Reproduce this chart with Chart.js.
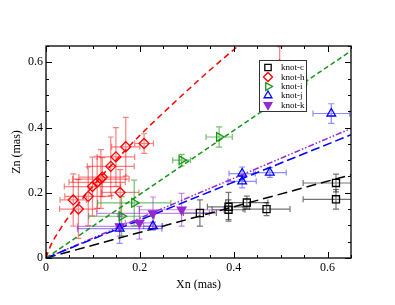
<!DOCTYPE html>
<html><head><meta charset="utf-8">
<script src="https://cdn.jsdelivr.net/npm/chart.js@4/dist/chart.umd.min.js"></script>
<style>html,body{margin:0;padding:0;background:#fff}</style>
</head><body>
<canvas id="c" width="395" height="305"></canvas>
<script>
// knot-c (black squares)
const cX    = [0.328, 0.389, 0.389, 0.428, 0.470, 0.618, 0.618];
const cY    = [0.138, 0.157, 0.148, 0.170, 0.150, 0.230, 0.180];
const cXerr = [0.035, 0.045, 0.035, 0.045, 0.050, 0.070, 0.070];
const cYerr = [0.040, 0.044, 0.030, 0.020, 0.020, 0.027, 0.030];
// knot-h (red diamonds)
const hX    = [0.058, 0.069, 0.090, 0.099, 0.109, 0.117, 0.120, 0.138, 0.149, 0.170, 0.209, 0.158, 0.498];
const hY    = [0.178, 0.150, 0.189, 0.219, 0.232, 0.242, 0.248, 0.281, 0.310, 0.341, 0.351, 0.201, 0.592];
const hXerr = [0.028, 0.040, 0.050, 0.060, 0.060, 0.060, 0.050, 0.050, 0.040, 0.030, 0.020, 0.040, 0.028];
const hYerr = [0.080, 0.090, 0.090, 0.090, 0.080, 0.090, 0.060, 0.090, 0.090, 0.090, 0.030, 0.070, 0.056];
// knot-i (green right triangles)
const iX    = [0.161, 0.188, 0.289, 0.369, 0.520];
const iY    = [0.128, 0.169, 0.300, 0.371, 0.537];
const iXerr = [0.070, 0.078, 0.019, 0.028, 0.036];
const iYerr = [0.060, 0.070, 0.018, 0.031, 0.030];
// knot-j (blue triangles)
const jX    = [0.157, 0.228, 0.418, 0.418, 0.477, 0.608];
const jY    = [0.090, 0.098, 0.259, 0.235, 0.262, 0.443];
const jXerr = [0.090, 0.020, 0.028, 0.030, 0.035, 0.039];
const jYerr = [0.045, 0.012, 0.020, 0.020, 0.015, 0.030];
// knot-k (purple down triangles)
const kX    = [0.157, 0.199, 0.228, 0.289];
const kY    = [0.097, 0.108, 0.137, 0.148];
const kXerr = [0.090, 0.030, 0.120, 0.090];
const kYerr = [0.030, 0.050, 0.050, 0.050];
// fitted curves
const fitHX = [0, 0.01, 0.03, 0.06, 0.10, 0.15, 0.20, 0.25, 0.30, 0.35, 0.42];
const fitHY = [0, 0.038, 0.088, 0.149, 0.221, 0.301, 0.376, 0.445, 0.512, 0.577, 0.663];
const fitIX = [0, 0.65], fitIY = [0, 0.635];
const fitJX = [0, 0.65], fitJY = [0, 0.378];
const fitKX = [0, 0.65], fitKY = [0, 0.397];
const fitCX = [0, 0.65], fitCY = [0, 0.255];
const xTickValues = [0, 0.2, 0.4, 0.6];
const legendLabels = ['knot-c', 'knot-h', 'knot-i', 'knot-j', 'knot-k'];

const pts = (xs, ys) => xs.map((x, i) => ({x, y: ys[i]}));
const SERIF = '"Liberation Serif", "DejaVu Serif", serif';

const RED = '#ff0000', GREEN = 'rgb(20,150,20)', BLUE = '#0000ff', PURPLE = 'rgb(150,40,210)', BLACK = '#000000';

function markerSet(label, xs, ys, xe, ye, color, style, rot, filled, errColor) {
  return {
    type: 'scatter', label, data: pts(xs, ys), xErr: xe, yErr: ye, errColor,
    pointStyle: style, rotation: rot, pointRadius: 5, pointHoverRadius: 5,
    borderColor: color, pointBorderColor: color, pointBorderWidth: 1.3,
    pointBackgroundColor: filled ? color : 'rgba(0,0,0,0)', showLine: false, order: 1
  };
}
function fitSet(xs, ys, color, dash, smooth) {
  return {
    type: 'line', data: pts(xs, ys), borderColor: color, borderWidth: 1.5,
    borderDash: dash, pointRadius: 0, fill: false, tension: smooth ? 0.4 : 0,
    cubicInterpolationMode: smooth ? 'monotone' : 'default', order: 2, isFit: true
  };
}

const errorBars = {
  id: 'errorBars',
  beforeDatasetsDraw(chart) {
    const {ctx, chartArea: a, scales: {x, y}} = chart;
    ctx.save();
    ctx.beginPath(); ctx.rect(a.left, a.top, a.right - a.left, a.bottom - a.top); ctx.clip();
    ctx.lineWidth = 1.2;
    chart.data.datasets.forEach(ds => {
      if (!ds.xErr) return;
      ctx.strokeStyle = ds.errColor;
      ds.data.forEach((p, i) => {
        const px = x.getPixelForValue(p.x), py = y.getPixelForValue(p.y);
        const x0 = x.getPixelForValue(p.x - ds.xErr[i]), x1 = x.getPixelForValue(p.x + ds.xErr[i]);
        const y0 = y.getPixelForValue(p.y - ds.yErr[i]), y1 = y.getPixelForValue(p.y + ds.yErr[i]);
        const c = 3;
        ctx.beginPath();
        ctx.moveTo(x0, py); ctx.lineTo(x1, py);
        ctx.moveTo(x0, py - c); ctx.lineTo(x0, py + c);
        ctx.moveTo(x1, py - c); ctx.lineTo(x1, py + c);
        ctx.moveTo(px, y0); ctx.lineTo(px, y1);
        ctx.moveTo(px - c, y0); ctx.lineTo(px + c, y0);
        ctx.moveTo(px - c, y1); ctx.lineTo(px + c, y1);
        ctx.stroke();
      });
    });
    ctx.restore();
  }
};

function drawMarker(ctx, style, x, y, r, color, filled) {
  ctx.save();
  ctx.strokeStyle = color; ctx.fillStyle = color; ctx.lineWidth = 1.3;
  ctx.beginPath();
  if (style === 'rect') {
    const s = r * Math.SQRT1_2; ctx.rect(x - s, y - s, 2 * s, 2 * s);
  } else if (style === 'diamond') {
    ctx.moveTo(x - r, y); ctx.lineTo(x, y - r); ctx.lineTo(x + r, y); ctx.lineTo(x, y + r); ctx.closePath();
  } else {
    let rad = style === 'tri' ? 0 : style === 'triR' ? Math.PI / 2 : Math.PI;
    for (let k = 0; k < 3; k++) {
      const xx = x + Math.sin(rad) * r, yy = y - Math.cos(rad) * r;
      if (k === 0) ctx.moveTo(xx, yy); else ctx.lineTo(xx, yy);
      rad += 2 * Math.PI / 3;
    }
    ctx.closePath();
  }
  if (filled) ctx.fill();
  ctx.stroke();
  ctx.restore();
}

const frameAndLegend = {
  id: 'frameAndLegend',
  afterDraw(chart) {
    const {ctx, chartArea: a, scales: {x, y}} = chart;
    ctx.save();
    ctx.strokeStyle = '#000'; ctx.lineWidth = 1.3;
    ctx.strokeRect(a.left, a.top, a.right - a.left, a.bottom - a.top);
    ctx.lineWidth = 1;
    for (let i = 0; i * 0.05 <= 0.651; i++) {
      const v = i * 0.05, len = i % 4 === 0 ? 6 : 3;
      const px = Math.round(x.getPixelForValue(v)) + 0.5;
      const py = Math.round(y.getPixelForValue(v)) + 0.5;
      ctx.beginPath();
      ctx.moveTo(px, a.bottom); ctx.lineTo(px, a.bottom - len);
      ctx.moveTo(px, a.top); ctx.lineTo(px, a.top + len);
      ctx.moveTo(a.left, py); ctx.lineTo(a.left + len, py);
      ctx.moveTo(a.right, py); ctx.lineTo(a.right - len, py);
      ctx.stroke();
    }
    // legend
    const bx = 259.5, by = 60.5, bw = 47, bh = 51;
    ctx.fillStyle = '#fff'; ctx.fillRect(bx, by, bw, bh);
    ctx.strokeStyle = '#333'; ctx.lineWidth = 1; ctx.strokeRect(bx, by, bw, bh);
    const styles = [['rect', BLACK, false], ['diamond', RED, false], ['triR', GREEN, false], ['tri', BLUE, false], ['triD', PURPLE, true]];
    const rows = [67.5, 77, 86.5, 95.5, 105];
    ctx.font = '9px ' + SERIF; ctx.textBaseline = 'middle'; ctx.textAlign = 'left';
    legendLabels.forEach((lab, i) => {
      drawMarker(ctx, styles[i][0], 268, rows[i], 4.5, styles[i][1], styles[i][2]);
      ctx.fillStyle = '#000'; ctx.fillText(lab, 281, rows[i] + 0.5);
    });
    ctx.restore();
  }
};

const tickFont = {family: SERIF, size: 12};
new Chart(document.getElementById('c'), {
  data: {
    datasets: [
      markerSet('knot-c', cX, cY, cXerr, cYerr, BLACK, 'rect', 0, false, 'rgba(0,0,0,0.55)'),
      markerSet('knot-h', hX, hY, hXerr, hYerr, RED, 'rectRot', 0, false, 'rgba(255,0,0,0.5)'),
      markerSet('knot-i', iX, iY, iXerr, iYerr, GREEN, 'triangle', 90, false, 'rgba(20,150,20,0.6)'),
      markerSet('knot-j', jX, jY, jXerr, jYerr, BLUE, 'triangle', 0, false, 'rgba(0,0,255,0.45)'),
      markerSet('knot-k', kX, kY, kXerr, kYerr, PURPLE, 'triangle', 180, true, 'rgba(150,40,210,0.55)'),
      fitSet(fitHX, fitHY, RED, [6, 4], true),
      fitSet(fitIX, fitIY, GREEN, [5, 3], false),
      fitSet(fitJX, fitJY, BLUE, [9, 4], false),
      fitSet(fitKX, fitKY, PURPLE, [6, 2, 1.5, 2, 1.5, 2], false),
      fitSet(fitCX, fitCY, BLACK, [10, 5], false)
    ]
  },
  options: {
    responsive: false, animation: false, devicePixelRatio: 1,
    layout: {padding: {top: 46, right: 44, left: 0, bottom: 0}},
    plugins: {legend: {display: false}, tooltip: {enabled: false}},
    scales: {
      x: {
        type: 'linear', min: 0, max: 0.65,
        afterFit: s => { s.height = 47; },
        afterBuildTicks: s => { s.ticks = xTickValues.map(v => ({value: v})); },
        grid: {display: false, drawTicks: false}, border: {display: false},
        ticks: {font: tickFont, color: '#000', padding: 3, maxRotation: 0,
          callback: v => v === 0 ? '0' : v.toFixed(1)},
        title: {display: true, text: 'Xn (mas)', font: {family: SERIF, size: 12}, color: '#000', padding: {top: 0, bottom: 13}}
      },
      y: {
        type: 'linear', min: 0, max: 0.65,
        afterFit: s => { s.width = 46; },
        afterBuildTicks: s => { s.ticks = xTickValues.map(v => ({value: v})); },
        grid: {display: false, drawTicks: false}, border: {display: false},
        ticks: {font: tickFont, color: '#000', padding: 3,
          callback: v => v === 0 ? '0' : v.toFixed(1)},
        title: {display: true, text: 'Zn (mas)', font: {family: SERIF, size: 12}, color: '#000', padding: {top: 10, bottom: 0}}
      }
    }
  },
  plugins: [errorBars, frameAndLegend]
});
</script>
</body></html>
